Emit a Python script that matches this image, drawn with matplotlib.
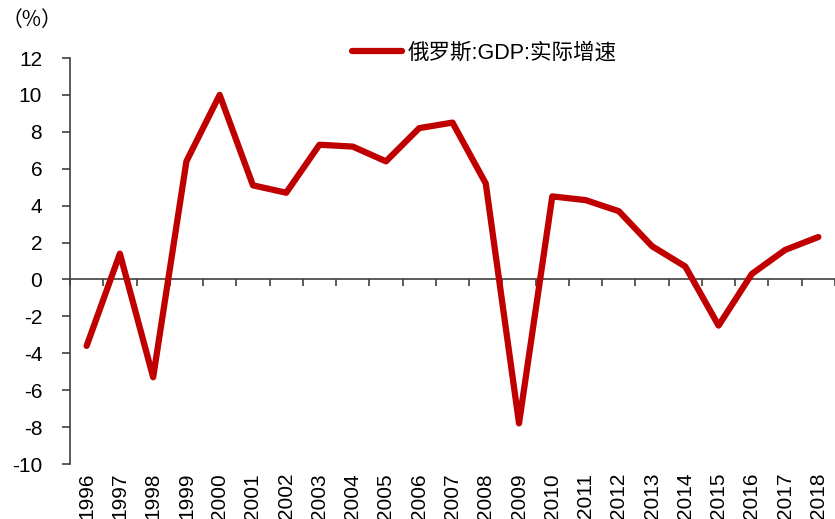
import matplotlib
matplotlib.use("Agg")
import matplotlib.pyplot as plt
import matplotlib.transforms as mtransforms
import numpy as np

years = [str(y) for y in range(1996, 2019)]
gdp_growth = [-3.6, 1.4, -5.3, 6.4, 10.0, 5.1, 4.7, 7.3, 7.2, 6.4, 8.2, 8.5, 5.2,
              -7.8, 4.5, 4.3, 3.7, 1.8, 0.7, -2.5, 0.3, 1.6, 2.3]
series_label = "俄罗斯:GDP:实际增速"
y_ticks = list(range(-10, 13, 2))

plt.rcParams['font.family'] = ['Liberation Sans', 'Noto Sans CJK SC', 'DejaVu Sans']

fig = plt.figure(figsize=(8.35, 5.19), dpi=100)
ax = fig.add_axes([70/835, 1-464/519, 1-70/835, (464-58)/519])

x = np.arange(len(years))
line, = ax.plot(x, gdp_growth, color='#C00000', lw=4.5, solid_joinstyle='round',
                solid_capstyle='round', label=series_label, zorder=3)

ax.set_xlim(-0.5, len(years) - 0.5)
ax.set_ylim(-10, 12)
ax.set_yticks(y_ticks)
ax.set_yticklabels([str(v) for v in y_ticks])

spine_color = '#404040'
for s in ['top', 'right']:
    ax.spines[s].set_visible(False)
ax.spines['left'].set_color(spine_color)
ax.spines['left'].set_linewidth(1.2)
ax.spines['bottom'].set_position(('data', 0))
ax.spines['bottom'].set_color(spine_color)
ax.spines['bottom'].set_linewidth(1.2)

ax.tick_params(axis='y', direction='out', length=6, width=1.2, color=spine_color,
               labelsize=15, pad=14, labelcolor='black')
ax.set_xticks(np.arange(-0.5, len(years) + 0.5, 1))
ax.tick_params(axis='x', direction='out', length=5, width=1.2, color=spine_color,
               labelbottom=False)

trans = mtransforms.blended_transform_factory(ax.transData, ax.transAxes)
for xi, lab in zip(x, years):
    ax.text(xi, -0.022, lab, transform=trans, rotation=90, ha='center', va='top',
            fontsize=15, color='black')

fig.text(2/835, 1-20/519, "（%）", ha='left', va='center', fontsize=15,
         family=['Noto Sans CJK SC', 'DejaVu Sans'])

fig.legend(handles=[line], labels=[series_label], loc='center left',
           bbox_to_anchor=(352/835, 1-53/519), frameon=False, fontsize=15.5,
           handlelength=2.3, handletextpad=0.3, borderaxespad=0, borderpad=0)

fig.savefig('out.png', dpi=100)
